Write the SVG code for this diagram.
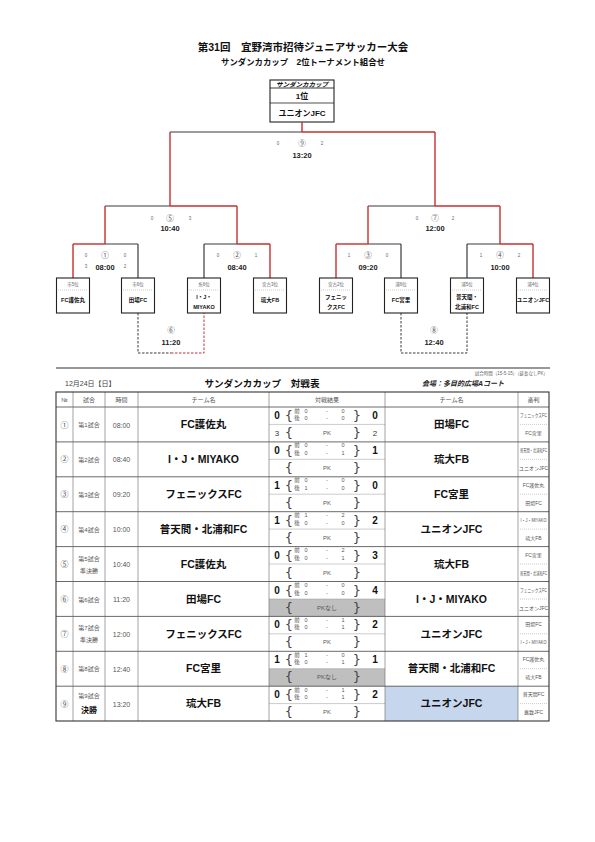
<svg xmlns="http://www.w3.org/2000/svg" width="595" height="842" viewBox="0 0 595 842">
<style>
text{font-family:"Liberation Sans","Noto Sans CJK JP",sans-serif;}
.c{text-anchor:middle;}
.b{font-weight:bold;}
.lk{stroke:#3a3a3a;stroke-width:1.2;fill:none;}
.lr{stroke:#c62f2f;stroke-width:1.4;fill:none;}
.dk{stroke:#3a3a3a;stroke-width:1;fill:none;stroke-dasharray:2.5,1.5;}
.dr{stroke:#c62f2f;stroke-width:1;fill:none;stroke-dasharray:2.5,1.5;}
.box{fill:#fff;stroke:#222;stroke-width:1.1;}
.sep{stroke:#999;stroke-width:0.5;stroke-dasharray:1,1;}
.lab{font-size:4.5px;fill:#666;text-anchor:middle;}
.tn{font-size:5.5px;font-weight:bold;fill:#111;text-anchor:middle;}
.gn{font-family:"Noto Sans CJK JP",sans-serif;font-size:7.5px;fill:#555;text-anchor:middle;}
.gt{font-size:7.5px;font-weight:bold;fill:#222;text-anchor:middle;}
.gs{font-size:4.5px;fill:#666;text-anchor:middle;}
.no{font-family:"Noto Sans CJK JP",sans-serif;font-size:8px;fill:#555;text-anchor:middle;}
.gm{font-size:6px;fill:#555;text-anchor:middle;}
.tm{font-size:7px;fill:#555;text-anchor:middle;}
.team{font-size:10.5px;font-weight:bold;fill:#111;text-anchor:middle;}
.sc{font-size:10px;font-weight:bold;fill:#111;text-anchor:middle;}
.pks{font-size:8px;fill:#333;text-anchor:middle;}
.br{font-family:"DejaVu Sans",sans-serif;font-size:13px;fill:#444;text-anchor:middle;}
.hs{font-size:5.5px;fill:#555;text-anchor:middle;}
.pk{font-size:6px;fill:#555;text-anchor:middle;}
.ref{font-size:5px;fill:#555;text-anchor:middle;}
.hd{font-size:6px;fill:#555;text-anchor:middle;}
.grid{stroke:#666;stroke-width:0.6;fill:none;}
.rowl{stroke:#444;stroke-width:0.8;fill:none;}
.mid{stroke:#999;stroke-width:0.5;fill:none;}
</style>
<rect x="0" y="0" width="595" height="842" fill="#fff"/>
<g opacity="0.999">
<g id="title">
<text class="c b" x="303" y="51" font-size="10.5" fill="#111">第31回　宜野湾市招待ジュニアサッカー大会</text>
<text class="c b" x="303" y="65" font-size="8.4" fill="#111">サンダンカカップ　2位トーナメント組合せ</text>
</g>

<g id="champion">
<rect class="box" x="270" y="80" width="64" height="42"/>
<line x1="270" y1="88" x2="334" y2="88" stroke="#222" stroke-width="0.9"/>
<line x1="270" y1="103" x2="334" y2="103" stroke="#222" stroke-width="0.8"/>
<text class="c b" x="302" y="86.5" font-size="6.5" font-style="italic" fill="#111">サンダンカカップ</text>
<text class="c b" x="302" y="98.5" font-size="8" fill="#111">1位</text>
<text class="c b" x="302" y="116" font-size="8" fill="#111">ユニオンJFC</text>
</g>

<g id="connectors">
<line class="lr" x1="302" y1="122" x2="302" y2="132"/>
<line class="lk" x1="170" y1="132" x2="302" y2="132"/>
<line class="lr" x1="302" y1="132" x2="435" y2="132"/>
<line class="lr" x1="170" y1="132" x2="170" y2="206"/>
<line class="lr" x1="435" y1="132" x2="435" y2="206"/>
<line class="lk" x1="105" y1="206" x2="170" y2="206"/>
<line class="lr" x1="170" y1="206" x2="237" y2="206"/>
<line class="lr" x1="105" y1="206" x2="105" y2="244"/>
<line class="lr" x1="237" y1="206" x2="237" y2="244"/>
<line class="lk" x1="368" y1="206" x2="435" y2="206"/>
<line class="lr" x1="435" y1="206" x2="500" y2="206"/>
<line class="lr" x1="368" y1="206" x2="368" y2="244"/>
<line class="lr" x1="500" y1="206" x2="500" y2="244"/>
<line class="lr" x1="73" y1="244" x2="105" y2="244"/>
<line class="lk" x1="105" y1="244" x2="138" y2="244"/>
<line class="lr" x1="73" y1="244" x2="73" y2="278"/>
<line class="lk" x1="138" y1="244" x2="138" y2="278"/>
<line class="lk" x1="204" y1="244" x2="237" y2="244"/>
<line class="lr" x1="237" y1="244" x2="270" y2="244"/>
<line class="lk" x1="204" y1="244" x2="204" y2="278"/>
<line class="lr" x1="270" y1="244" x2="270" y2="278"/>
<line class="lr" x1="336" y1="244" x2="368" y2="244"/>
<line class="lk" x1="368" y1="244" x2="401" y2="244"/>
<line class="lr" x1="336" y1="244" x2="336" y2="278"/>
<line class="lk" x1="401" y1="244" x2="401" y2="278"/>
<line class="lk" x1="467" y1="244" x2="500" y2="244"/>
<line class="lr" x1="500" y1="244" x2="533" y2="244"/>
<line class="lk" x1="467" y1="244" x2="467" y2="278"/>
<line class="lr" x1="533" y1="244" x2="533" y2="278"/>
<polyline class="dk" points="138,313 138,353 171,353"/>
<polyline class="dr" points="171,353 204,353 204,313"/>
<polyline class="dk" points="401,313 401,353 467,353 467,313"/>
</g>

<g id="game-labels">
<text class="gs" x="278" y="145">0</text><text class="gn" x="302" y="146">⑨</text><text class="gs" x="322" y="145">2</text>
<text class="gt" x="302" y="158">13:20</text>
<text class="gs" x="152" y="220">0</text><text class="gn" x="170" y="221">⑤</text><text class="gs" x="190" y="220">3</text>
<text class="gt" x="170" y="231">10:40</text>
<text class="gs" x="417" y="220">0</text><text class="gn" x="435" y="221">⑦</text><text class="gs" x="453" y="220">2</text>
<text class="gt" x="435" y="231">12:00</text>
<text class="gs" x="86" y="257">0</text><text class="gn" x="105" y="258">①</text><text class="gs" x="125" y="257">0</text>
<text class="gs" x="86" y="268">3</text><text class="gs" x="125" y="268">2</text>
<text class="gt" x="105" y="270">08:00</text>
<text class="gs" x="218" y="257">0</text><text class="gn" x="237" y="258">②</text><text class="gs" x="256" y="257">1</text>
<text class="gt" x="237" y="270">08:40</text>
<text class="gs" x="349" y="257">1</text><text class="gn" x="368" y="258">③</text><text class="gs" x="387" y="257">0</text>
<text class="gt" x="368" y="270">09:20</text>
<text class="gs" x="481" y="257">1</text><text class="gn" x="500" y="258">④</text><text class="gs" x="519" y="257">2</text>
<text class="gt" x="500" y="270">10:00</text>
<text class="gn" x="171" y="333">⑥</text>
<text class="gt" x="171" y="345">11:20</text>
<text class="gn" x="434" y="333">⑧</text>
<text class="gt" x="434" y="345">12:40</text>
</g>

<g id="team1"><rect class="box" x="56.5" y="278" width="33" height="35"/><text class="lab" x="73" y="286">市5位</text><line class="sep" x1="58" y1="290" x2="88" y2="290"/><text class="tn" x="73" y="302">FC護佐丸</text></g>
<g id="team2"><rect class="box" x="121.5" y="278" width="33" height="35"/><text class="lab" x="138" y="286">市6位</text><line class="sep" x1="123" y1="290" x2="153" y2="290"/><text class="tn" x="138" y="302">田場FC</text></g>
<g id="team3"><rect class="box" x="187.5" y="278" width="33" height="35"/><text class="lab" x="204" y="286">糸6位</text><line class="sep" x1="189" y1="290" x2="219" y2="290"/><text class="tn" x="204" y="299">I・J・</text><text class="tn" x="204" y="309">MIYAKO</text></g>
<g id="team4"><rect class="box" x="253.5" y="278" width="33" height="35"/><text class="lab" x="270" y="286">宮古3位</text><line class="sep" x1="255" y1="290" x2="285" y2="290"/><text class="tn" x="270" y="302">琉大FB</text></g>
<g id="team5"><rect class="box" x="319.5" y="278" width="33" height="35"/><text class="lab" x="336" y="286">宮古2位</text><line class="sep" x1="321" y1="290" x2="351" y2="290"/><text class="tn" x="336" y="299">フェニッ</text><text class="tn" x="336" y="309">クスFC</text></g>
<g id="team6"><rect class="box" x="384.5" y="278" width="33" height="35"/><text class="lab" x="401" y="286">浦6位</text><line class="sep" x1="386" y1="290" x2="416" y2="290"/><text class="tn" x="401" y="302">FC宮里</text></g>
<g id="team7"><rect class="box" x="450.5" y="278" width="33" height="35"/><text class="lab" x="467" y="286">浦5位</text><line class="sep" x1="452" y1="290" x2="482" y2="290"/><text class="tn" x="467" y="299">普天間・</text><text class="tn" x="467" y="309">北浦和FC</text></g>
<g id="team8"><rect class="box" x="516.5" y="278" width="33" height="35"/><text class="lab" x="533" y="286">浦4位</text><line class="sep" x1="518" y1="290" x2="548" y2="290"/><text class="tn" x="533" y="302" font-size="4.5">ユニオンJFC</text></g>

<g id="separator">
<line x1="56" y1="368" x2="550" y2="368" stroke="#333" stroke-width="1.2"/>
<text x="548" y="375" font-size="4.5" fill="#666" text-anchor="end">試合時間（15-5-15）（延長なしPK）</text>
<text x="65" y="386" font-size="7" fill="#444">12月24日【日】</text>
<text class="c b" x="262" y="387" font-size="9.6" fill="#111">サンダンカカップ　対戦表</text>
<text class="b" x="422" y="386" font-size="7" font-style="italic" fill="#222">会場：多目的広場Aコート</text>
</g>

<g id="table">
<rect x="385" y="686.2" width="133" height="34.9" fill="#c6d6ec"/>
<rect x="269" y="599" width="116" height="17.4" fill="#bfbfbf"/>
<rect x="269" y="668.7" width="116" height="17.5" fill="#bfbfbf"/>
<g class="rowl">
<line x1="56" y1="407" x2="549" y2="407"/>
<line x1="56" y1="441.9" x2="549" y2="441.9"/>
<line x1="56" y1="476.8" x2="549" y2="476.8"/>
<line x1="56" y1="511.7" x2="549" y2="511.7"/>
<line x1="56" y1="546.6" x2="549" y2="546.6"/>
<line x1="56" y1="581.5" x2="549" y2="581.5"/>
<line x1="56" y1="616.4" x2="549" y2="616.4"/>
<line x1="56" y1="651.3" x2="549" y2="651.3"/>
<line x1="56" y1="686.2" x2="549" y2="686.2"/>
</g>
<g class="mid">
<line x1="269" y1="424.4" x2="385" y2="424.4"/>
<line x1="269" y1="459.3" x2="385" y2="459.3"/>
<line x1="269" y1="494.2" x2="385" y2="494.2"/>
<line x1="269" y1="529.1" x2="385" y2="529.1"/>
<line x1="269" y1="564" x2="385" y2="564"/>
<line x1="269" y1="599" x2="385" y2="599"/>
<line x1="269" y1="633.8" x2="385" y2="633.8"/>
<line x1="269" y1="668.7" x2="385" y2="668.7"/>
<line x1="269" y1="703.6" x2="385" y2="703.6"/>
</g>
<g class="sep">
<line x1="520" y1="424.4" x2="547" y2="424.4"/>
<line x1="520" y1="459.3" x2="547" y2="459.3"/>
<line x1="520" y1="494.2" x2="547" y2="494.2"/>
<line x1="520" y1="529.1" x2="547" y2="529.1"/>
<line x1="520" y1="564" x2="547" y2="564"/>
<line x1="520" y1="599" x2="547" y2="599"/>
<line x1="520" y1="633.8" x2="547" y2="633.8"/>
<line x1="520" y1="668.7" x2="547" y2="668.7"/>
<line x1="520" y1="703.6" x2="547" y2="703.6"/>
</g>
<g class="grid">
<line x1="73" y1="392" x2="73" y2="721"/>
<line x1="105" y1="392" x2="105" y2="721"/>
<line x1="138" y1="392" x2="138" y2="721"/>
<line x1="269" y1="392" x2="269" y2="721"/>
<line x1="385" y1="392" x2="385" y2="721"/>
<line x1="518" y1="392" x2="518" y2="721"/>
</g>
<rect x="56" y="392" width="493" height="329" fill="none" stroke="#333" stroke-width="1.1"/>

<g id="header">
<text class="hd" x="64.5" y="402">№</text>
<text class="hd" x="89" y="402">試合</text>
<text class="hd" x="121.5" y="402">時間</text>
<text class="hd" x="203.5" y="402">チーム名</text>
<text class="hd" x="327" y="402">対戦結果</text>
<text class="hd" x="451.5" y="402">チーム名</text>
<text class="hd" x="533.5" y="402">審判</text>
</g>

<g id="row1" transform="translate(0,407)">
<text class="no" x="64.5" y="20.5">①</text><text class="gm" x="89" y="20">第1試合</text><text class="tm" x="121.5" y="20.5">08:00</text>
<text class="team" x="203.5" y="21.2">FC護佐丸</text>
<text class="sc" x="277" y="12">0</text><text class="pks" x="277" y="29">3</text>
<text class="br" x="289" y="13">{</text><text class="br" x="289" y="30">{</text><text class="br" x="357" y="13">}</text><text class="br" x="357" y="30">}</text>
<text class="hs" x="297" y="5.5">前</text><text class="hs" x="306" y="5.5">0</text><text class="hs" x="327" y="5.5">-</text><text class="hs" x="343" y="5.5">0</text>
<text class="hs" x="297" y="13">後</text><text class="hs" x="306" y="13">0</text><text class="hs" x="327" y="13">-</text><text class="hs" x="343" y="13">0</text>
<text class="pk" x="327" y="28">PK</text>
<text class="sc" x="375" y="12">0</text><text class="pks" x="375" y="29">2</text>
<text class="team" x="451.5" y="21.2">田場FC</text>
<text class="ref" x="533.5" y="10" font-size="4" textLength="27" lengthAdjust="spacingAndGlyphs">フェニックスFC</text><text class="ref" x="533.5" y="28">FC宮里</text>
</g>

<g id="row2" transform="translate(0,441.9)">
<text class="no" x="64.5" y="20.5">②</text><text class="gm" x="89" y="20">第2試合</text><text class="tm" x="121.5" y="20.5">08:40</text>
<text class="team" x="203.5" y="21.2">I・J・MIYAKO</text>
<text class="sc" x="277" y="12">0</text>
<text class="br" x="289" y="13">{</text><text class="br" x="289" y="30">{</text><text class="br" x="357" y="13">}</text><text class="br" x="357" y="30">}</text>
<text class="hs" x="297" y="5.5">前</text><text class="hs" x="306" y="5.5">0</text><text class="hs" x="327" y="5.5">-</text><text class="hs" x="343" y="5.5">0</text>
<text class="hs" x="297" y="13">後</text><text class="hs" x="306" y="13">0</text><text class="hs" x="327" y="13">-</text><text class="hs" x="343" y="13">1</text>
<text class="pk" x="327" y="28">PK</text>
<text class="sc" x="375" y="12">1</text>
<text class="team" x="451.5" y="21.2">琉大FB</text>
<text class="ref" x="533.5" y="10" font-size="4" textLength="27" lengthAdjust="spacingAndGlyphs">普天間・北浦和FC</text><text class="ref" x="533.5" y="28" font-size="4.5">ユニオンJFC</text>
</g>

<g id="row3" transform="translate(0,476.8)">
<text class="no" x="64.5" y="20.5">③</text><text class="gm" x="89" y="20">第3試合</text><text class="tm" x="121.5" y="20.5">09:20</text>
<text class="team" x="203.5" y="21.2">フェニックスFC</text>
<text class="sc" x="277" y="12">1</text>
<text class="br" x="289" y="13">{</text><text class="br" x="289" y="30">{</text><text class="br" x="357" y="13">}</text><text class="br" x="357" y="30">}</text>
<text class="hs" x="297" y="5.5">前</text><text class="hs" x="306" y="5.5">0</text><text class="hs" x="327" y="5.5">-</text><text class="hs" x="343" y="5.5">0</text>
<text class="hs" x="297" y="13">後</text><text class="hs" x="306" y="13">1</text><text class="hs" x="327" y="13">-</text><text class="hs" x="343" y="13">0</text>
<text class="pk" x="327" y="28">PK</text>
<text class="sc" x="375" y="12">0</text>
<text class="team" x="451.5" y="21.2">FC宮里</text>
<text class="ref" x="533.5" y="10">FC護佐丸</text><text class="ref" x="533.5" y="28">田場FC</text>
</g>

<g id="row4" transform="translate(0,511.7)">
<text class="no" x="64.5" y="20.5">④</text><text class="gm" x="89" y="20">第4試合</text><text class="tm" x="121.5" y="20.5">10:00</text>
<text class="team" x="203.5" y="21.2">普天間・北浦和FC</text>
<text class="sc" x="277" y="12">1</text>
<text class="br" x="289" y="13">{</text><text class="br" x="289" y="30">{</text><text class="br" x="357" y="13">}</text><text class="br" x="357" y="30">}</text>
<text class="hs" x="297" y="5.5">前</text><text class="hs" x="306" y="5.5">1</text><text class="hs" x="327" y="5.5">-</text><text class="hs" x="343" y="5.5">2</text>
<text class="hs" x="297" y="13">後</text><text class="hs" x="306" y="13">0</text><text class="hs" x="327" y="13">-</text><text class="hs" x="343" y="13">0</text>
<text class="pk" x="327" y="28">PK</text>
<text class="sc" x="375" y="12">2</text>
<text class="team" x="451.5" y="21.2">ユニオンJFC</text>
<text class="ref" x="533.5" y="10" font-size="4" textLength="26" lengthAdjust="spacingAndGlyphs">I・J・MIYAKO</text><text class="ref" x="533.5" y="28">琉大FB</text>
</g>

<g id="row5" transform="translate(0,546.6)">
<text class="no" x="64.5" y="20.5">⑤</text><text class="gm" x="89" y="14">第5試合</text><text class="gm" x="89" y="26">準決勝</text><text class="tm" x="121.5" y="20.5">10:40</text>
<text class="team" x="203.5" y="21.2">FC護佐丸</text>
<text class="sc" x="277" y="12">0</text>
<text class="br" x="289" y="13">{</text><text class="br" x="289" y="30">{</text><text class="br" x="357" y="13">}</text><text class="br" x="357" y="30">}</text>
<text class="hs" x="297" y="5.5">前</text><text class="hs" x="306" y="5.5">0</text><text class="hs" x="327" y="5.5">-</text><text class="hs" x="343" y="5.5">2</text>
<text class="hs" x="297" y="13">後</text><text class="hs" x="306" y="13">0</text><text class="hs" x="327" y="13">-</text><text class="hs" x="343" y="13">1</text>
<text class="pk" x="327" y="28">PK</text>
<text class="sc" x="375" y="12">3</text>
<text class="team" x="451.5" y="21.2">琉大FB</text>
<text class="ref" x="533.5" y="10">FC宮里</text><text class="ref" x="533.5" y="28" font-size="4" textLength="27" lengthAdjust="spacingAndGlyphs">普天間・北浦和FC</text>
</g>

<g id="row6" transform="translate(0,581.5)">
<text class="no" x="64.5" y="20.5">⑥</text><text class="gm" x="89" y="20">第6試合</text><text class="tm" x="121.5" y="20.5">11:20</text>
<text class="team" x="203.5" y="21.2">田場FC</text>
<text class="sc" x="277" y="12">0</text>
<text class="br" x="289" y="13">{</text><text class="br" x="289" y="30">{</text><text class="br" x="357" y="13">}</text><text class="br" x="357" y="30">}</text>
<text class="hs" x="297" y="5.5">前</text><text class="hs" x="306" y="5.5">0</text><text class="hs" x="327" y="5.5">-</text><text class="hs" x="343" y="5.5">0</text>
<text class="hs" x="297" y="13">後</text><text class="hs" x="306" y="13">0</text><text class="hs" x="327" y="13">-</text><text class="hs" x="343" y="13">0</text>
<text class="pk" x="327" y="28">PKなし</text>
<text class="sc" x="375" y="12">4</text>
<text class="team" x="451.5" y="21.2">I・J・MIYAKO</text>
<text class="ref" x="533.5" y="10" font-size="4" textLength="27" lengthAdjust="spacingAndGlyphs">フェニックスFC</text><text class="ref" x="533.5" y="28" font-size="4.5">ユニオンJFC</text>
</g>

<g id="row7" transform="translate(0,616.4)">
<text class="no" x="64.5" y="20.5">⑦</text><text class="gm" x="89" y="14">第7試合</text><text class="gm" x="89" y="26">準決勝</text><text class="tm" x="121.5" y="20.5">12:00</text>
<text class="team" x="203.5" y="21.2">フェニックスFC</text>
<text class="sc" x="277" y="12">0</text>
<text class="br" x="289" y="13">{</text><text class="br" x="289" y="30">{</text><text class="br" x="357" y="13">}</text><text class="br" x="357" y="30">}</text>
<text class="hs" x="297" y="5.5">前</text><text class="hs" x="306" y="5.5">0</text><text class="hs" x="327" y="5.5">-</text><text class="hs" x="343" y="5.5">1</text>
<text class="hs" x="297" y="13">後</text><text class="hs" x="306" y="13">0</text><text class="hs" x="327" y="13">-</text><text class="hs" x="343" y="13">1</text>
<text class="pk" x="327" y="28">PK</text>
<text class="sc" x="375" y="12">2</text>
<text class="team" x="451.5" y="21.2">ユニオンJFC</text>
<text class="ref" x="533.5" y="10">田場FC</text><text class="ref" x="533.5" y="28" font-size="4" textLength="26" lengthAdjust="spacingAndGlyphs">I・J・MIYAKO</text>
</g>

<g id="row8" transform="translate(0,651.3)">
<text class="no" x="64.5" y="20.5">⑧</text><text class="gm" x="89" y="20">第8試合</text><text class="tm" x="121.5" y="20.5">12:40</text>
<text class="team" x="203.5" y="21.2">FC宮里</text>
<text class="sc" x="277" y="12">1</text>
<text class="br" x="289" y="13">{</text><text class="br" x="289" y="30">{</text><text class="br" x="357" y="13">}</text><text class="br" x="357" y="30">}</text>
<text class="hs" x="297" y="5.5">前</text><text class="hs" x="306" y="5.5">1</text><text class="hs" x="327" y="5.5">-</text><text class="hs" x="343" y="5.5">0</text>
<text class="hs" x="297" y="13">後</text><text class="hs" x="306" y="13">0</text><text class="hs" x="327" y="13">-</text><text class="hs" x="343" y="13">1</text>
<text class="pk" x="327" y="28">PKなし</text>
<text class="sc" x="375" y="12">1</text>
<text class="team" x="451.5" y="21.2">普天間・北浦和FC</text>
<text class="ref" x="533.5" y="10">FC護佐丸</text><text class="ref" x="533.5" y="28">琉大FB</text>
</g>

<g id="row9" transform="translate(0,686.2)">
<text class="no" x="64.5" y="20.5">⑨</text><text class="gm" x="89" y="12">第9試合</text><text class="b" x="89" y="27" font-size="8" fill="#111" text-anchor="middle">決勝</text><text class="tm" x="121.5" y="20.5">13:20</text>
<text class="team" x="203.5" y="21.2">琉大FB</text>
<text class="sc" x="277" y="12">0</text>
<text class="br" x="289" y="13">{</text><text class="br" x="289" y="30">{</text><text class="br" x="357" y="13">}</text><text class="br" x="357" y="30">}</text>
<text class="hs" x="297" y="5.5">前</text><text class="hs" x="306" y="5.5">0</text><text class="hs" x="327" y="5.5">-</text><text class="hs" x="343" y="5.5">1</text>
<text class="hs" x="297" y="13">後</text><text class="hs" x="306" y="13">0</text><text class="hs" x="327" y="13">-</text><text class="hs" x="343" y="13">1</text>
<text class="pk" x="327" y="28">PK</text>
<text class="sc" x="375" y="12">2</text>
<text class="team" x="451.5" y="21.2">ユニオンJFC</text>
<text class="ref" x="533.5" y="10">普天間FC</text><text class="ref" x="533.5" y="28">嘉数JFC</text>
</g>
</g>
</g>
</svg>
